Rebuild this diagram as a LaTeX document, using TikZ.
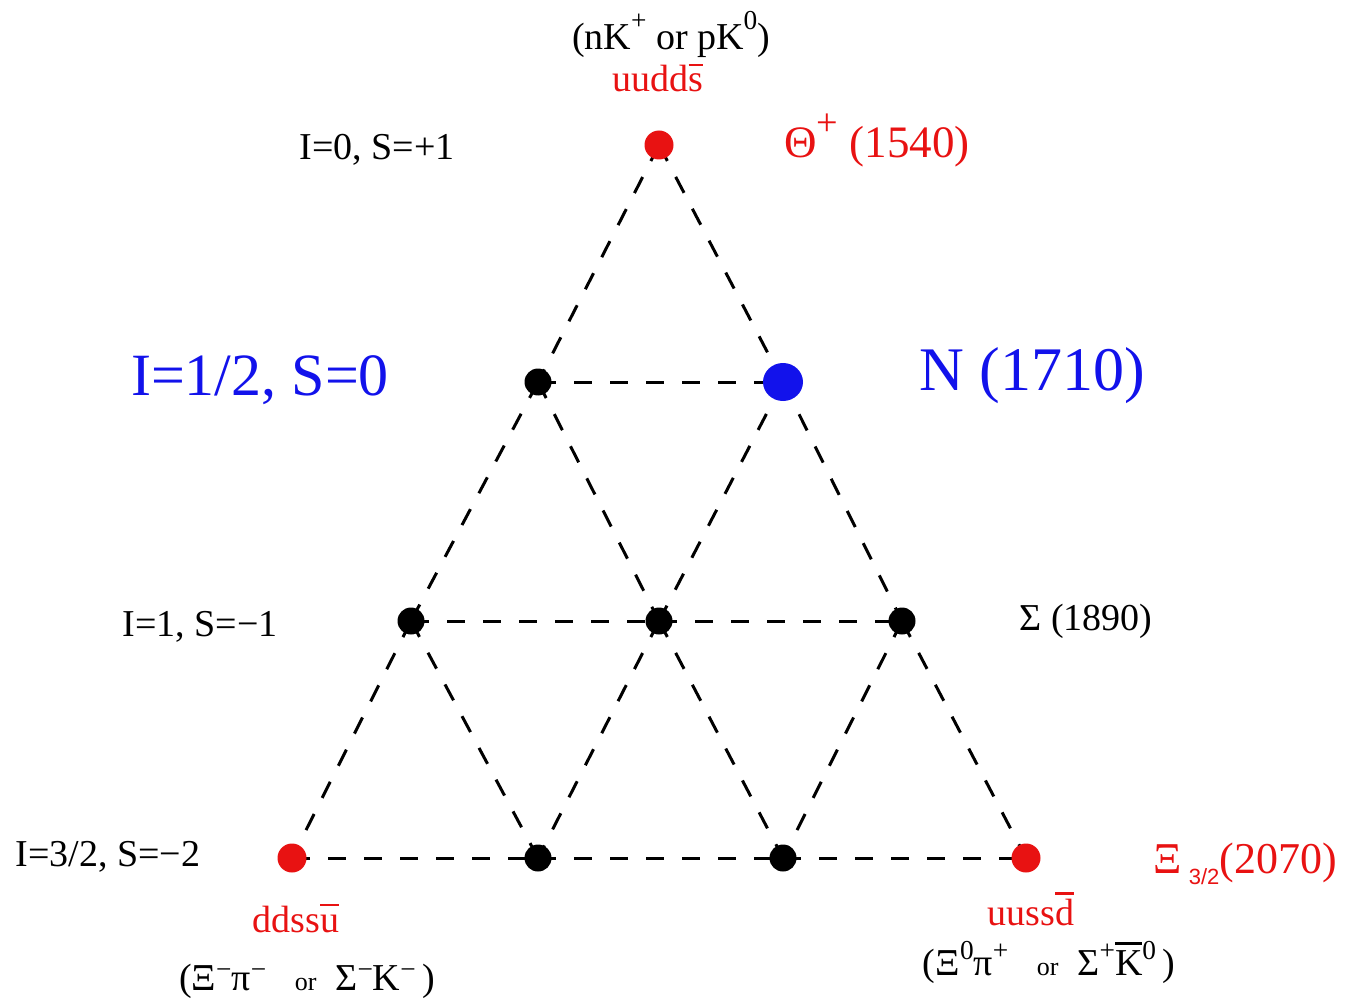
\documentclass[tikz,border=0pt]{standalone}
\usepackage{fontspec}
\setmainfont{Liberation Serif}
\newfontfamily\subsf{Liberation Sans}
\usetikzlibrary{positioning, backgrounds, shapes.geometric}
\definecolor{cred} {RGB}{232,  18,  18}
\definecolor{cblue}{RGB}{ 18,  18, 235}
\newcommand\fs[1]{\fontsize{#1}{#1}\selectfont}
% raised charge / isospin index
\newcommand\sps[2][0.5em]{\raisebox{#1}{\scalebox{0.72}{#2}}}
% antiquark bar over one letter
\newcommand\qbar[2][0.74em]{\leavevmode\setbox0\hbox{#2}%
  \rlap{\raisebox{#1}{\rule{\wd0}{0.06em}}}\box0}
\tikzset{
  hadron/.style  = {circle, fill=black, inner sep=0pt, minimum size=27pt},
  exotic/.style  = {hadron, fill=cred, minimum size=29pt},
  nstar/.style   = {ellipse, fill=cblue, inner sep=0pt,
                    minimum width=40pt, minimum height=38pt},
  lattice/.style = {dash pattern=on 18pt off 18pt, line width=3pt},
  lbl/.style     = {inner sep=0pt, anchor=base, font=\fs{38}},
  big/.style     = {inner sep=0pt, anchor=base, font=\fs{60}, text=cblue},
}

\begin{document}
\begin{tikzpicture}[x=1pt, y=-1pt]
\useasboundingbox (0,0) rectangle (1347,1000);

% ── Row y-coordinates (top → bottom) ─────────────────────────────────────
\def\yA{145}   % I=0,   S=+1
\def\yB{382}   % I=1/2, S=0
\def\yC{621}   % I=1,   S=-1
\def\yD{858}   % I=3/2, S=-2

% ── Antidecuplet members ───────────────────────────────────────────────────
\node[exotic] (theta) at (659, \yA) {};
\node[hadron] (n1)    at (538, \yB) {};
\node[nstar]  (n2)    at (783, \yB) {};
\node[hadron] (s1)    at (411, \yC) {};
\node[hadron] (s2)    at (659, \yC) {};
\node[hadron] (s3)    at (902, \yC) {};
\node[exotic] (xi1)   at (292, \yD) {};
\node[hadron] (xi2)   at (538, \yD) {};
\node[hadron] (xi3)   at (783, \yD) {};
\node[exotic] (xi4)   at (1026, \yD) {};

% ── Dashed lattice (behind the dots) ───────────────────────────────────────
\begin{pgfonlayer}{background}
\foreach \a/\b in {theta/n1, n1/s1, s1/xi1, theta/n2, n2/s3, s3/xi4,
                   n1/n2, s1/s2, s2/s3, xi1/xi2, xi2/xi3, xi3/xi4,
                   n1/s2, s2/xi3, n2/s2, s2/xi2, s1/xi2, s3/xi3}
  \draw[lattice] (\a.center) -- (\b.center);
\end{pgfonlayer}

% ── Isospin / strangeness of each row ───────────────────────────────────────
\node[lbl] (rowA) at (377, 160) {I=0, S=+1};
\node[big] (rowB) at (260, 395) {I=1/2, S=0};
\node[lbl] (rowC) at (200, 636) {I=1, S=−1};
\node[lbl] (rowD) at (108, 866) {I=3/2, S=−2};

% ── Masses ──────────────────────────────────────────────────────────────────
\node[lbl, font=\fs{45}, text=cred] (mA) at (877, 158)
  {Θ\raisebox{0.5em}{\scalebox{0.85}{+}} (1540)};
\node[big, font=\fs{62}] (mB) at (1032, 390) {N (1710)};
\node[lbl] (mC) at (1086, 630) {Σ (1890)};
\node[lbl, font=\fs{44}, text=cred] (mD) at (1245, 873)
  {Ξ\,\raisebox{-0.25em}{\subsf\fs{22}3/2}(2070)};

% ── Quark content and decay channels ───────────────────────────────────────
\node[lbl, text=cred] (qA) at (658, 92) {uudd\qbar[0.68em]{s}};
\node[lbl] (dA) at (671, 50)
  {(nK\sps[0.55em]{+} or pK\sps[0.55em]{0})};
\node[lbl, text=cred] (qL) at (296, 932) {ddss\qbar[0.68em]{u}};
\node[lbl] (dL) at (307, 990)
  {(Ξ\sps[0.3em]{−}π\sps[0.3em]{−}\ \ \ {\fs{26}or}\ \ Σ\sps[0.3em]{−}K\sps[0.3em]{−}\,)};
\node[lbl, text=cred] (qR) at (1031, 925) {uuss\qbar[0.8em]{d}};
\node[lbl] (dR) at (1049, 975)
  {(Ξ\sps[0.42em]{0}π\sps[0.42em]{+}\ \ \ {\fs{26}or}\ \ Σ\sps[0.42em]{+}\qbar[0.8em]{K}\sps[0.42em]{0}\,)};

\end{tikzpicture}
\end{document}
